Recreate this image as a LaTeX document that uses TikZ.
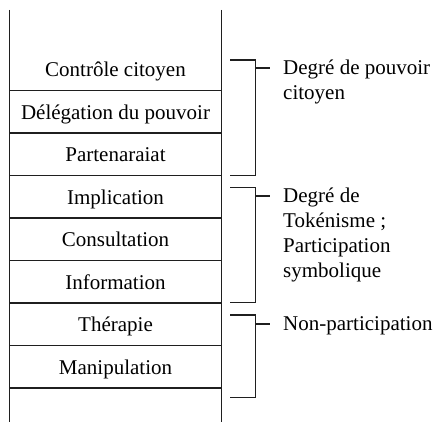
\documentclass[tikz,border=0pt]{standalone}
\usepackage{fontspec}
\setmainfont{Liberation Serif}
\begin{document}
\begin{tikzpicture}[x=1pt,y=-1pt,
  rule/.style={line width=1.6pt,draw=black!88},
  rung/.style={anchor=base,inner sep=0pt,font=\fontsize{21}{25}\selectfont},
  label/.style={anchor=base west,inner sep=0pt,font=\fontsize{21}{25}\selectfont},
  bracket/.style={line width=1.6pt,draw=black!88}]
\useasboundingbox (0,0) rectangle (437,422);
% ladder rails
\coordinate (LT) at (9.5,10);
\coordinate (LB) at (9.5,422);
\coordinate (RT) at (221.5,10);
\coordinate (RB) at (221.5,422);
\draw[rule] (LT) -- (LB);
\draw[rule] (RT) -- (RB);
% rungs
\foreach \y/\n in {90.5/a,133/b,175.5/c,218/d,260.5/e,303/f,345.5/g,388/h}{
  \coordinate (l\n) at (9.5,\y);
  \coordinate (r\n) at (221.5,\y);
  \draw[rule] (l\n) -- (r\n);
}
% rung texts
\node[rung] (t1) at (115.5,77) {Contrôle citoyen};
\node[rung] (t2) at (115.5,119.5) {Délégation du pouvoir};
\node[rung] (t3) at (115.5,162) {Partenaraiat};
\node[rung] (t4) at (115.5,204.5) {Implication};
\node[rung] (t5) at (115.5,247) {Consultation};
\node[rung] (t6) at (115.5,289.5) {Information};
\node[rung] (t7) at (115.5,332) {Thérapie};
\node[rung] (t8) at (115.5,374.5) {Manipulation};
% brackets
\coordinate (b1t) at (230,60);
\coordinate (b1b) at (230,175.5);
\coordinate (b1m) at (270,68);
\draw[bracket] (b1t) -| (255.5,175.5) -- (b1b);
\draw[bracket] (255.5,68) -- (b1m);
\node[label] (g1) at (283,75) {\begin{tabular}[t]{@{}l@{}}Degré de pouvoir\\citoyen\end{tabular}};
\coordinate (b2t) at (230,187.5);
\coordinate (b2b) at (230,302.5);
\coordinate (b2m) at (270,196);
\draw[bracket] (b2t) -| (255.5,302.5) -- (b2b);
\draw[bracket] (255.5,196) -- (b2m);
\node[label] (g2) at (283,202.5) {\begin{tabular}[t]{@{}l@{}}Degré de\\Tokénisme ;\\Participation\\symbolique\end{tabular}};
\coordinate (b3t) at (230,315);
\coordinate (b3b) at (230,397.5);
\coordinate (b3m) at (270,324);
\draw[bracket] (b3t) -| (255.5,397.5) -- (b3b);
\draw[bracket] (255.5,324) -- (b3m);
\node[label] (g3) at (283,330.5) {Non-participation};
\end{tikzpicture}
\end{document}
